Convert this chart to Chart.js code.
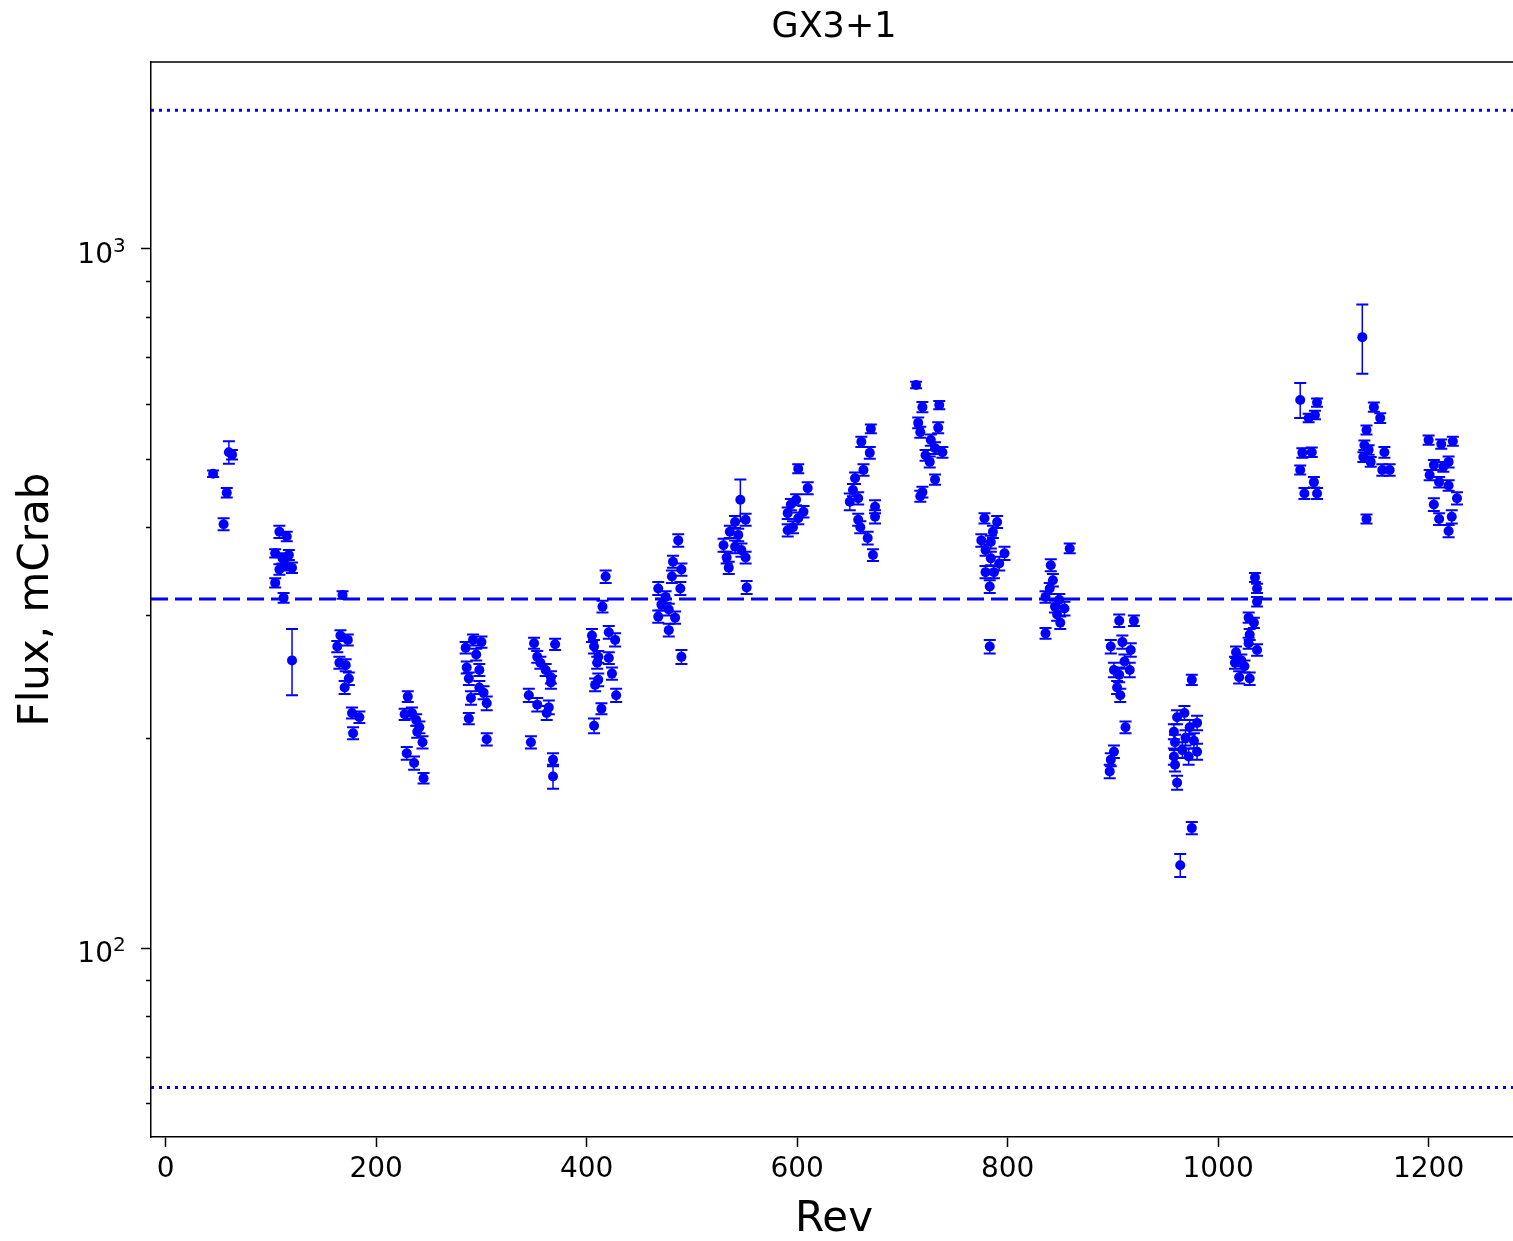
<!DOCTYPE html>
<html>
<head>
<meta charset="utf-8">
<title>GX3+1</title>
<script src="https://cdn.jsdelivr.net/npm/chart.js@4.4.1/dist/chart.umd.min.js"></script>
<style>
    html, body { margin: 0; padding: 0; background: #fff; overflow: hidden; }
    canvas { display: block; }
</style>
</head>
<body>
<canvas id="fluxChart" width="1522" height="1241"></canvas>
<script>
// Light curve data: revolution number, flux (mCrab) and 1-sigma flux error
const rev = [
    45, 55, 58, 60, 63,
    104, 104, 108, 108, 111, 112, 114, 115, 117, 120, 120,
    168, 166, 173, 163, 165, 171, 174, 170, 177, 184, 178,
    230, 227, 234, 238, 241, 239, 244, 229, 236, 245,
    292, 300, 285, 295, 286, 298, 288, 298, 302, 290, 305, 288, 305,
    350, 370, 353, 356, 361, 366, 366, 345, 353, 364, 362, 347, 368, 368,
    418, 415, 405, 421, 427, 407, 411, 421, 410, 424, 411, 408, 428, 414, 407,
    487, 482, 490, 481, 468, 489, 475, 471, 478, 468, 484, 478, 490,
    546, 541, 551, 536, 544, 530, 541, 547, 533, 551, 535, 552,
    601, 610, 599, 594, 606, 591, 601, 596, 591,
    670, 661, 669, 663, 655, 653, 658, 650, 674, 674, 658, 660, 667, 672,
    713, 719, 735, 715, 717, 734, 727, 731, 738, 722, 726, 731, 719, 717,
    778, 790, 786, 775, 784, 779, 797, 784, 792, 779, 787, 783, 783,
    859, 841, 843, 840, 836, 849, 845, 854, 847, 850, 836,
    906, 920, 898, 909, 917, 911, 901, 916, 906, 904, 907, 912, 901, 898, 897,
    975, 968, 961, 980, 973, 958, 969, 977, 959, 966, 980, 972, 958, 959, 961, 975, 964,
    1035, 1037, 1037, 1029, 1034, 1030, 1029, 1037, 1017, 1022, 1016, 1025, 1020, 1030,
    1078, 1094, 1092, 1086, 1080, 1089, 1078, 1091, 1082, 1094,
    1137, 1148, 1154, 1141, 1139, 1143, 1158, 1138, 1145, 1156, 1163, 1141,
    1200, 1212, 1223, 1219, 1205, 1214, 1201, 1210, 1219, 1205, 1227, 1210, 1222, 1219
];

const flux = [
    477, 404, 448, 512, 508,
    367, 333, 394, 348, 361, 317, 353, 388, 365, 350, 258,
    320, 280, 276, 270, 256, 254, 243, 236, 217, 214, 203,
    229, 216, 217, 212, 207, 204, 197, 190, 184, 175,
    276, 274, 269, 263, 252, 250, 243, 236, 232, 228, 224, 213, 199,
    273, 272, 261, 256, 250, 244, 240, 230, 223, 221, 217, 197, 186, 176,
    340, 308, 280, 283, 276, 270, 261, 260, 256, 247, 242, 238, 230, 220, 208,
    383, 357, 348, 340, 327, 327, 318, 310, 305, 298, 297, 285, 261,
    438, 407, 410, 394, 390, 377, 375, 371, 362, 362, 350, 328,
    485, 455, 438, 431, 421, 419, 412, 400, 396,
    553, 530, 511, 483, 470, 452, 440, 435, 428, 414, 410, 400, 386, 365,
    639, 594, 598, 564, 547, 555, 533, 519, 512, 507, 496, 468, 449, 443,
    412, 407, 394, 383, 381, 371, 367, 361, 355, 345, 345, 329, 270,
    373, 353, 336, 327, 318, 315, 308, 306, 300, 292, 282,
    294, 294, 270, 274, 267, 257, 250, 250, 246, 236, 230, 207, 191, 186, 179,
    242, 217, 214, 210, 207, 204, 200, 198, 197, 192, 191, 188, 188, 183, 172.5, 148.5, 131.4,
    339, 327, 313, 297, 292, 281, 273, 267, 265, 258, 256, 253, 244, 243,
    608, 603, 579, 573, 511, 512, 483, 464, 447, 447,
    748, 594, 573, 551, 524, 516, 512, 504, 496, 483, 483, 411,
    533, 526, 531, 496, 491, 488, 475, 464, 459, 431, 440, 411, 414, 395
];

const fluxErr = [
    5, 8, 7, 19, 8,
    5, 5, 8, 6, 6, 5, 6, 6, 6, 6, 28,
    4, 5, 5, 5, 5, 5, 5, 5, 4, 4, 4,
    4, 4, 4, 4, 4, 4, 4, 4, 4, 3,
    5, 5, 5, 5, 5, 5, 5, 5, 5, 5, 5, 4, 4,
    5, 5, 5, 5, 5, 5, 5, 5, 5, 5, 5, 4, 4, 7,
    7, 6, 6, 6, 6, 6, 5, 5, 5, 5, 5, 5, 5, 4, 5,
    8, 7, 7, 7, 7, 7, 6, 6, 6, 6, 6, 6, 6,
    30, 8, 8, 8, 8, 8, 8, 8, 7, 7, 7, 7,
    7, 9, 8, 8, 8, 8, 8, 8, 8,
    8, 9, 10, 9, 9, 9, 9, 12, 9, 9, 8, 8, 8, 7,
    7, 10, 8, 10, 10, 10, 10, 10, 9, 9, 9, 8, 8, 8,
    7, 8, 8, 8, 8, 7, 8, 8, 8, 7, 7, 7, 6,
    6, 7, 7, 6, 6, 6, 6, 7, 6, 6, 5,
    6, 5, 6, 6, 6, 6, 6, 6, 6, 5, 5, 4, 4, 4, 4,
    4, 5, 5, 5, 5, 5, 5, 5, 5, 5, 5, 5, 5, 4, 4, 3, 5,
    5, 5, 5, 5, 5, 5, 5, 5, 5, 5, 5, 5, 5, 5,
    35, 8, 8, 8, 8, 8, 7, 8, 8, 8,
    85, 9, 9, 8, 8, 8, 9, 8, 8, 9, 9, 6,
    8, 8, 8, 9, 8, 8, 8, 8, 8, 9, 9, 8, 9, 8
];

// Mean flux (dashed) and mean x5 / mean /5 levels (dotted)
const meanFlux = 315.8;
const upperLevel = 1579;
const lowerLevel = 63.2;

// Axis limits and ticks
const xLimits = [-14, 1284];
const yLimits = [53.7, 1851];
const xTicks = [0, 200, 400, 600, 800, 1000, 1200];
const yMajorTicks = [100, 1000];
const yMajorExponents = ['2', '3'];
const yMinorTicks = [60, 70, 80, 90, 200, 300, 400, 500, 600, 700, 800, 900];

const BLUE = '#0000ff';
const FONT = 'DejaVu Sans';

// Function to build a horizontal reference line dataset
function levelLine(level, dash) {
    return {
        type: 'line',
        data: [{ x: xLimits[0], y: level }, { x: xLimits[1], y: level }],
        borderColor: BLUE,
        borderWidth: 3,
        borderDash: dash,
        pointRadius: 0,
        fill: false,
        order: 0
    };
}

// Plugin that draws the error bars through the chart scales
const errorBarPlugin = {
    id: 'errorBars',
    beforeDatasetsDraw(chart) {
        const { ctx, chartArea, scales: { x, y } } = chart;
        ctx.save();
        ctx.beginPath();
        ctx.rect(chartArea.left, chartArea.top, chartArea.width, chartArea.height);
        ctx.clip();
        ctx.strokeStyle = BLUE;
        const cap = 6;
        rev.forEach((r, i) => {
            const px = x.getPixelForValue(r);
            const yLow = y.getPixelForValue(flux[i] - fluxErr[i]);
            const yHigh = y.getPixelForValue(flux[i] + fluxErr[i]);
            ctx.lineWidth = 1.5;
            ctx.beginPath();
            ctx.moveTo(px, yLow);
            ctx.lineTo(px, yHigh);
            ctx.stroke();
            ctx.lineWidth = 2;
            ctx.beginPath();
            ctx.moveTo(px - cap, yLow);
            ctx.lineTo(px + cap, yLow);
            ctx.moveTo(px - cap, yHigh);
            ctx.lineTo(px + cap, yHigh);
            ctx.stroke();
        });
        ctx.restore();
    }
};

// Plugin for the top frame line, the minor log ticks and the 10^n labels
const framePlugin = {
    id: 'frame',
    afterDraw(chart) {
        const { ctx, chartArea, scales: { y } } = chart;
        ctx.save();
        ctx.strokeStyle = '#000';
        ctx.lineWidth = 1.5;
        ctx.beginPath();
        ctx.moveTo(chartArea.left, chartArea.top);
        ctx.lineTo(chartArea.right, chartArea.top);
        yMinorTicks.forEach(v => {
            const py = Math.round(y.getPixelForValue(v)) + 0.5;
            ctx.moveTo(chartArea.left, py);
            ctx.lineTo(chartArea.left - 5, py);
        });
        ctx.stroke();

        // Major tick labels with a real superscript exponent
        ctx.fillStyle = '#000';
        ctx.textBaseline = 'alphabetic';
        yMajorTicks.forEach((v, i) => {
            const py = y.getPixelForValue(v);
            ctx.font = `20px "${FONT}"`;
            ctx.textAlign = 'left';
            ctx.fillText(yMajorExponents[i], chartArea.left - 38, py + 3);
            ctx.font = `28px "${FONT}"`;
            ctx.textAlign = 'right';
            ctx.fillText('10', chartArea.left - 38, py + 14);
        });
        ctx.restore();
    }
};

// Function to draw the light curve
function initFluxChart() {
    const ctx = document.getElementById('fluxChart').getContext('2d');

    new Chart(ctx, {
        type: 'scatter',
        data: {
            datasets: [
                {
                    data: rev.map((r, i) => ({ x: r, y: flux[i] })),
                    backgroundColor: BLUE,
                    borderWidth: 0,
                    pointRadius: 5,
                    order: 1
                },
                levelLine(meanFlux, [17, 7]),
                levelLine(upperLevel, [3, 5]),
                levelLine(lowerLevel, [3, 5])
            ]
        },
        options: {
            responsive: false,
            devicePixelRatio: 1,
            animation: false,
            layout: { padding: { left: 0, top: 0, right: 1, bottom: 0 } },
            plugins: {
                legend: { display: false },
                tooltip: { enabled: false },
                title: {
                    display: true,
                    text: 'GX3+1',
                    color: '#000',
                    fullSize: false,
                    font: { family: FONT, size: 35, weight: 'normal', lineHeight: 1.2 },
                    padding: { top: 7, bottom: 13 }
                }
            },
            scales: {
                x: {
                    type: 'linear',
                    min: xLimits[0],
                    max: xLimits[1],
                    bounds: 'data',
                    afterBuildTicks: scale => { scale.ticks = xTicks.map(v => ({ value: v })); },
                    afterFit: scale => { scale.height = 104; },
                    grid: {
                        display: true,
                        drawOnChartArea: false,
                        drawTicks: true,
                        tickLength: 10,
                        tickColor: '#000',
                        tickWidth: 1.5
                    },
                    border: { display: true, color: '#000', width: 1.5 },
                    ticks: {
                        autoSkip: false,
                        maxRotation: 0,
                        padding: 6,
                        color: '#000',
                        font: { family: FONT, size: 28 },
                        callback: v => String(v)
                    },
                    title: {
                        display: true,
                        text: 'Rev',
                        color: '#000',
                        font: { family: FONT, size: 42, lineHeight: 1.0 },
                        padding: { top: 0, bottom: 0 }
                    }
                },
                y: {
                    type: 'logarithmic',
                    min: yLimits[0],
                    max: yLimits[1],
                    bounds: 'data',
                    afterBuildTicks: scale => { scale.ticks = yMajorTicks.map(v => ({ value: v, major: true })); },
                    afterFit: scale => { scale.width = 151; },
                    grid: {
                        display: true,
                        drawOnChartArea: false,
                        drawTicks: true,
                        tickLength: 10,
                        tickColor: '#000',
                        tickWidth: 1.5
                    },
                    border: { display: true, color: '#000', width: 1.5 },
                    ticks: {
                        autoSkip: false,
                        padding: 12,
                        font: { family: FONT, size: 28 },
                        callback: () => ''
                    },
                    title: {
                        display: true,
                        text: 'Flux, mCrab',
                        color: '#000',
                        font: { family: FONT, size: 42, lineHeight: 1.2 },
                        padding: { top: 12, bottom: 0 }
                    }
                }
            }
        },
        plugins: [errorBarPlugin, framePlugin]
    });
}

// Initialize chart when DOM is loaded
document.addEventListener('DOMContentLoaded', initFluxChart);
</script>
</body>
</html>
